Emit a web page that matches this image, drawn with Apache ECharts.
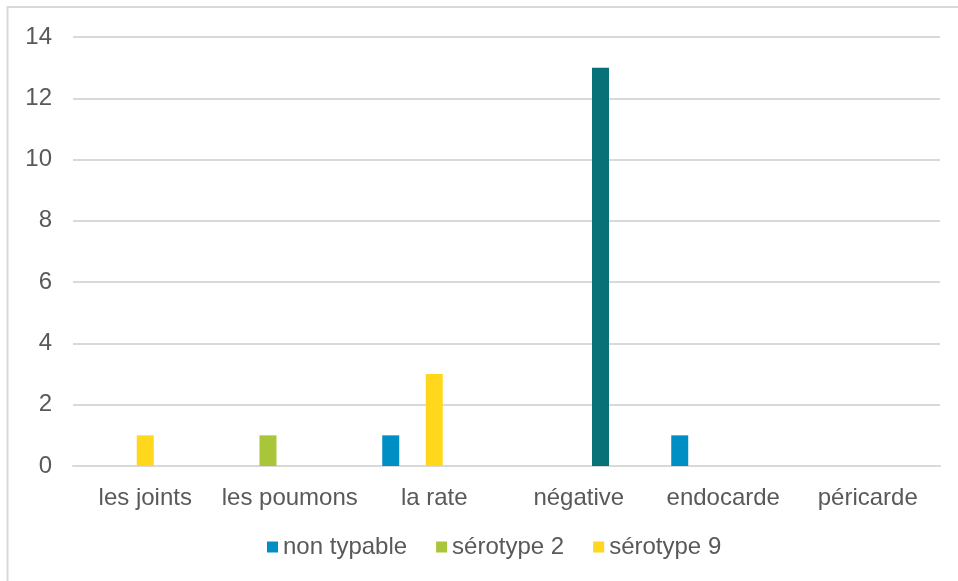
<!DOCTYPE html>
<html>
<head>
<meta charset="utf-8">
<script src="https://cdn.jsdelivr.net/npm/echarts@6/dist/echarts.min.js"></script>
<style>
  html, body { margin: 0; padding: 0; background: #fff; }
  #chart { width: 958px; height: 581px; }
</style>
</head>
<body>
<div id="chart"></div>
<script>
// Sites d'isolement
const categories = ['les joints', 'les poumons', 'la rate', 'négative', 'endocarde', 'péricarde'];

// Effectifs par sérotype
const nonTypable = [0, 0, 1, 0, 1, 0];
const serotype2  = [0, 1, 0, 0, 0, 0];
const serotype9  = [1, 0, 3, 0, 0, 0];
const negatif    = [0, 0, 0, 13, 0, 0];
const autre      = [0, 0, 0, 0, 0, 0];

const yTicks = { min: 0, max: 14, interval: 2 };

const textColor = '#595959';
const font = 'Liberation Sans, Arial, sans-serif';
const fontSize = 24;

const chart = echarts.init(document.getElementById('chart'));

function bar(name, data, color) {
  return {
    name: name,
    type: 'bar',
    data: data,
    barWidth: 17,
    barGap: '28%',
    barCategoryGap: '26%',
    itemStyle: { color: color },
    emphasis: { disabled: true },
    silent: true
  };
}

chart.setOption({
  animation: false,
  backgroundColor: '#fff',
  grid: { left: 73, right: 18, top: 37, bottom: 115, containLabel: false },
  graphic: [
    { type: 'line', shape: { x1: 7, y1: 7, x2: 958, y2: 7 }, style: { stroke: '#d9d9d9', lineWidth: 2 } },
    { type: 'line', shape: { x1: 7.5, y1: 6, x2: 7.5, y2: 581 }, style: { stroke: '#d9d9d9', lineWidth: 2 } }
  ],
  legend: {
    data: ['non typable', 'sérotype 2', 'sérotype 9'],
    bottom: 17,
    left: 262,
    icon: 'rect',
    itemWidth: 11,
    itemHeight: 11,
    itemGap: 29,
    textStyle: { color: textColor, fontSize: fontSize, fontFamily: font }
  },
  xAxis: {
    type: 'category',
    data: categories,
    axisLine: { lineStyle: { color: '#d9d9d9', width: 2 } },
    axisTick: { show: false },
    axisLabel: { color: textColor, fontSize: fontSize, fontFamily: font, margin: 20, interval: 0 }
  },
  yAxis: {
    type: 'value',
    min: yTicks.min,
    max: yTicks.max,
    interval: yTicks.interval,
    axisLine: { show: false },
    axisTick: { show: false },
    splitLine: { lineStyle: { color: '#d9d9d9', width: 2 } },
    axisLabel: { color: textColor, fontSize: fontSize, fontFamily: font, margin: 21 }
  },
  series: [
    bar('non typable', nonTypable, '#008fc5'),
    bar('sérotype 2', serotype2, '#a9c539'),
    bar('sérotype 9', serotype9, '#ffd71c'),
    bar('négatif', negatif, '#077177'),
    bar('autre', autre, '#5f6b73')
  ]
});
</script>
</body>
</html>
